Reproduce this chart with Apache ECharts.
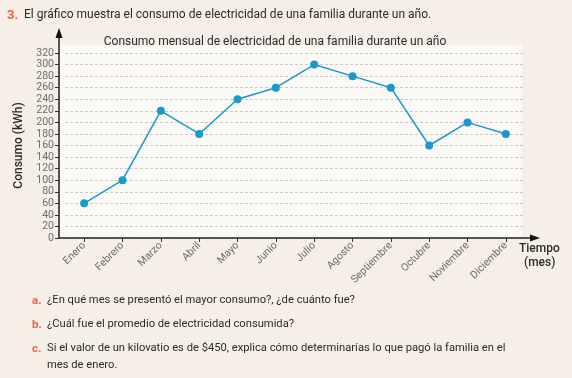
<!DOCTYPE html>
<html><head><meta charset="utf-8">
<script src="https://cdn.jsdelivr.net/npm/echarts@6/dist/echarts.min.js"></script>
<style>html,body{margin:0;padding:0;background:#f5efe8;}#c{width:572px;height:378px;}</style>
</head><body><div id="c"></div>
<script>
const months = ['Enero','Febrero','Marzo','Abril','Mayo','Junio','Julio','Agosto','Septiembre','Octubre','Noviembre','Diciembre'];
const consumo = [60, 100, 220, 180, 240, 260, 300, 280, 260, 160, 200, 180];
const yTicks = {min: 0, max: 320, interval: 20};

const W = 572, H = 378;
const gL = 65, gR = 525, gT = 53, gB = 238, axX = 59;
const txt = '#2b2b2b', lab = '#6d6d6d', accent = '#e8643f', line = '#1a9ac8';
const FF = 'Roboto, "Noto Sans", sans-serif';

const chart = echarts.init(document.getElementById('c'), null, {renderer: 'canvas'});
chart.setOption({
  backgroundColor: '#f5efe8',
  animation: false,
  title: {
    text: 'Consumo mensual de electricidad de una familia durante un año',
    left: 270, top: 31, textAlign: 'center',
    textStyle: {fontFamily: FF, fontSize: 12, fontWeight: 'normal', color: txt}
  },
  grid: {left: gL, right: W - gR, top: gT, bottom: H - gB},
  xAxis: {
    type: 'category', data: months, boundaryGap: true,
    axisLine: {show: false},
    axisTick: {show: true, alignWithLabel: true, length: 4, lineStyle: {color: '#333'}},
    axisLabel: {rotate: 45, fontFamily: FF, fontSize: 10.5, color: lab, margin: 6, interval: 0}
  },
  yAxis: {
    type: 'value', min: yTicks.min, max: yTicks.max, interval: yTicks.interval, offset: gL - axX,
    name: 'Consumo (kWh)', nameLocation: 'middle', nameGap: 30, nameRotate: 90,
    nameTextStyle: {fontFamily: FF, fontSize: 12, fontWeight: 500, color: txt},
    axisLine: {show: false},
    axisTick: {show: true, length: 4, lineStyle: {color: '#333'}},
    axisLabel: {fontFamily: FF, fontSize: 10.5, color: lab, margin: 5},
    splitLine: {show: true, lineStyle: {color: '#cfcac4', type: [3, 2], width: 1}}
  },
  series: [{
    type: 'line', data: consumo,
    symbol: 'circle', symbolSize: 8,
    lineStyle: {color: line, width: 1.5},
    itemStyle: {color: line},
    z: 5
  }],
  graphic: [
    {type: 'rect', shape: {x: axX, y: 45, width: 522 - axX, height: gB - 45}, style: {fill: '#fbf9f6'}, z: -10, silent: true},
    {type: 'polyline', shape: {points: [[axX, gB], [axX, 36]]}, style: {stroke: '#222', lineWidth: 1.5}, z: 10},
    {type: 'polygon', shape: {points: [[axX - 3.5, 38], [axX + 3.5, 38], [axX, 28]]}, style: {fill: '#111'}, z: 10},
    {type: 'polyline', shape: {points: [[axX, gB], [532, gB]]}, style: {stroke: '#222', lineWidth: 1.5}, z: 10},
    {type: 'polygon', shape: {points: [[530, gB - 3.5], [530, gB + 3.5], [540, gB]]}, style: {fill: '#111'}, z: 10},
    {type: 'text', left: 519, top: 243, style: {text: 'Tiempo', font: '500 12px ' + FF, fill: txt}},
    {type: 'text', left: 524, top: 257, style: {text: '(mes)', font: '500 12px ' + FF, fill: txt}},
    {type: 'text', left: 7, top: 9, style: {text: '3.', font: 'bold 13px ' + FF, fill: accent}},
    {type: 'text', left: 24, top: 9, style: {text: 'El gráfico muestra el consumo de electricidad de una familia durante un año.', font: '12px ' + FF, fill: txt}},
    {type: 'text', left: 32, top: 295, style: {text: 'a.', font: 'bold 11.5px ' + FF, fill: accent}},
    {type: 'text', left: 47, top: 295, style: {text: '¿En qué mes se presentó el mayor consumo?, ¿de cuánto fue?', font: '11.2px ' + FF, fill: txt}},
    {type: 'text', left: 32, top: 319, style: {text: 'b.', font: 'bold 11.5px ' + FF, fill: accent}},
    {type: 'text', left: 47, top: 319, style: {text: '¿Cuál fue el promedio de electricidad consumida?', font: '11.2px ' + FF, fill: txt}},
    {type: 'text', left: 32, top: 343, style: {text: 'c.', font: 'bold 11.5px ' + FF, fill: accent}},
    {type: 'text', left: 47, top: 343, style: {text: 'Si el valor de un kilovatio es de $450, explica cómo determinarías lo que pagó la familia en el', font: '11.2px ' + FF, fill: txt}},
    {type: 'text', left: 47, top: 360, style: {text: 'mes de enero.', font: '11.2px ' + FF, fill: txt}}
  ]
});
</script></body></html>
